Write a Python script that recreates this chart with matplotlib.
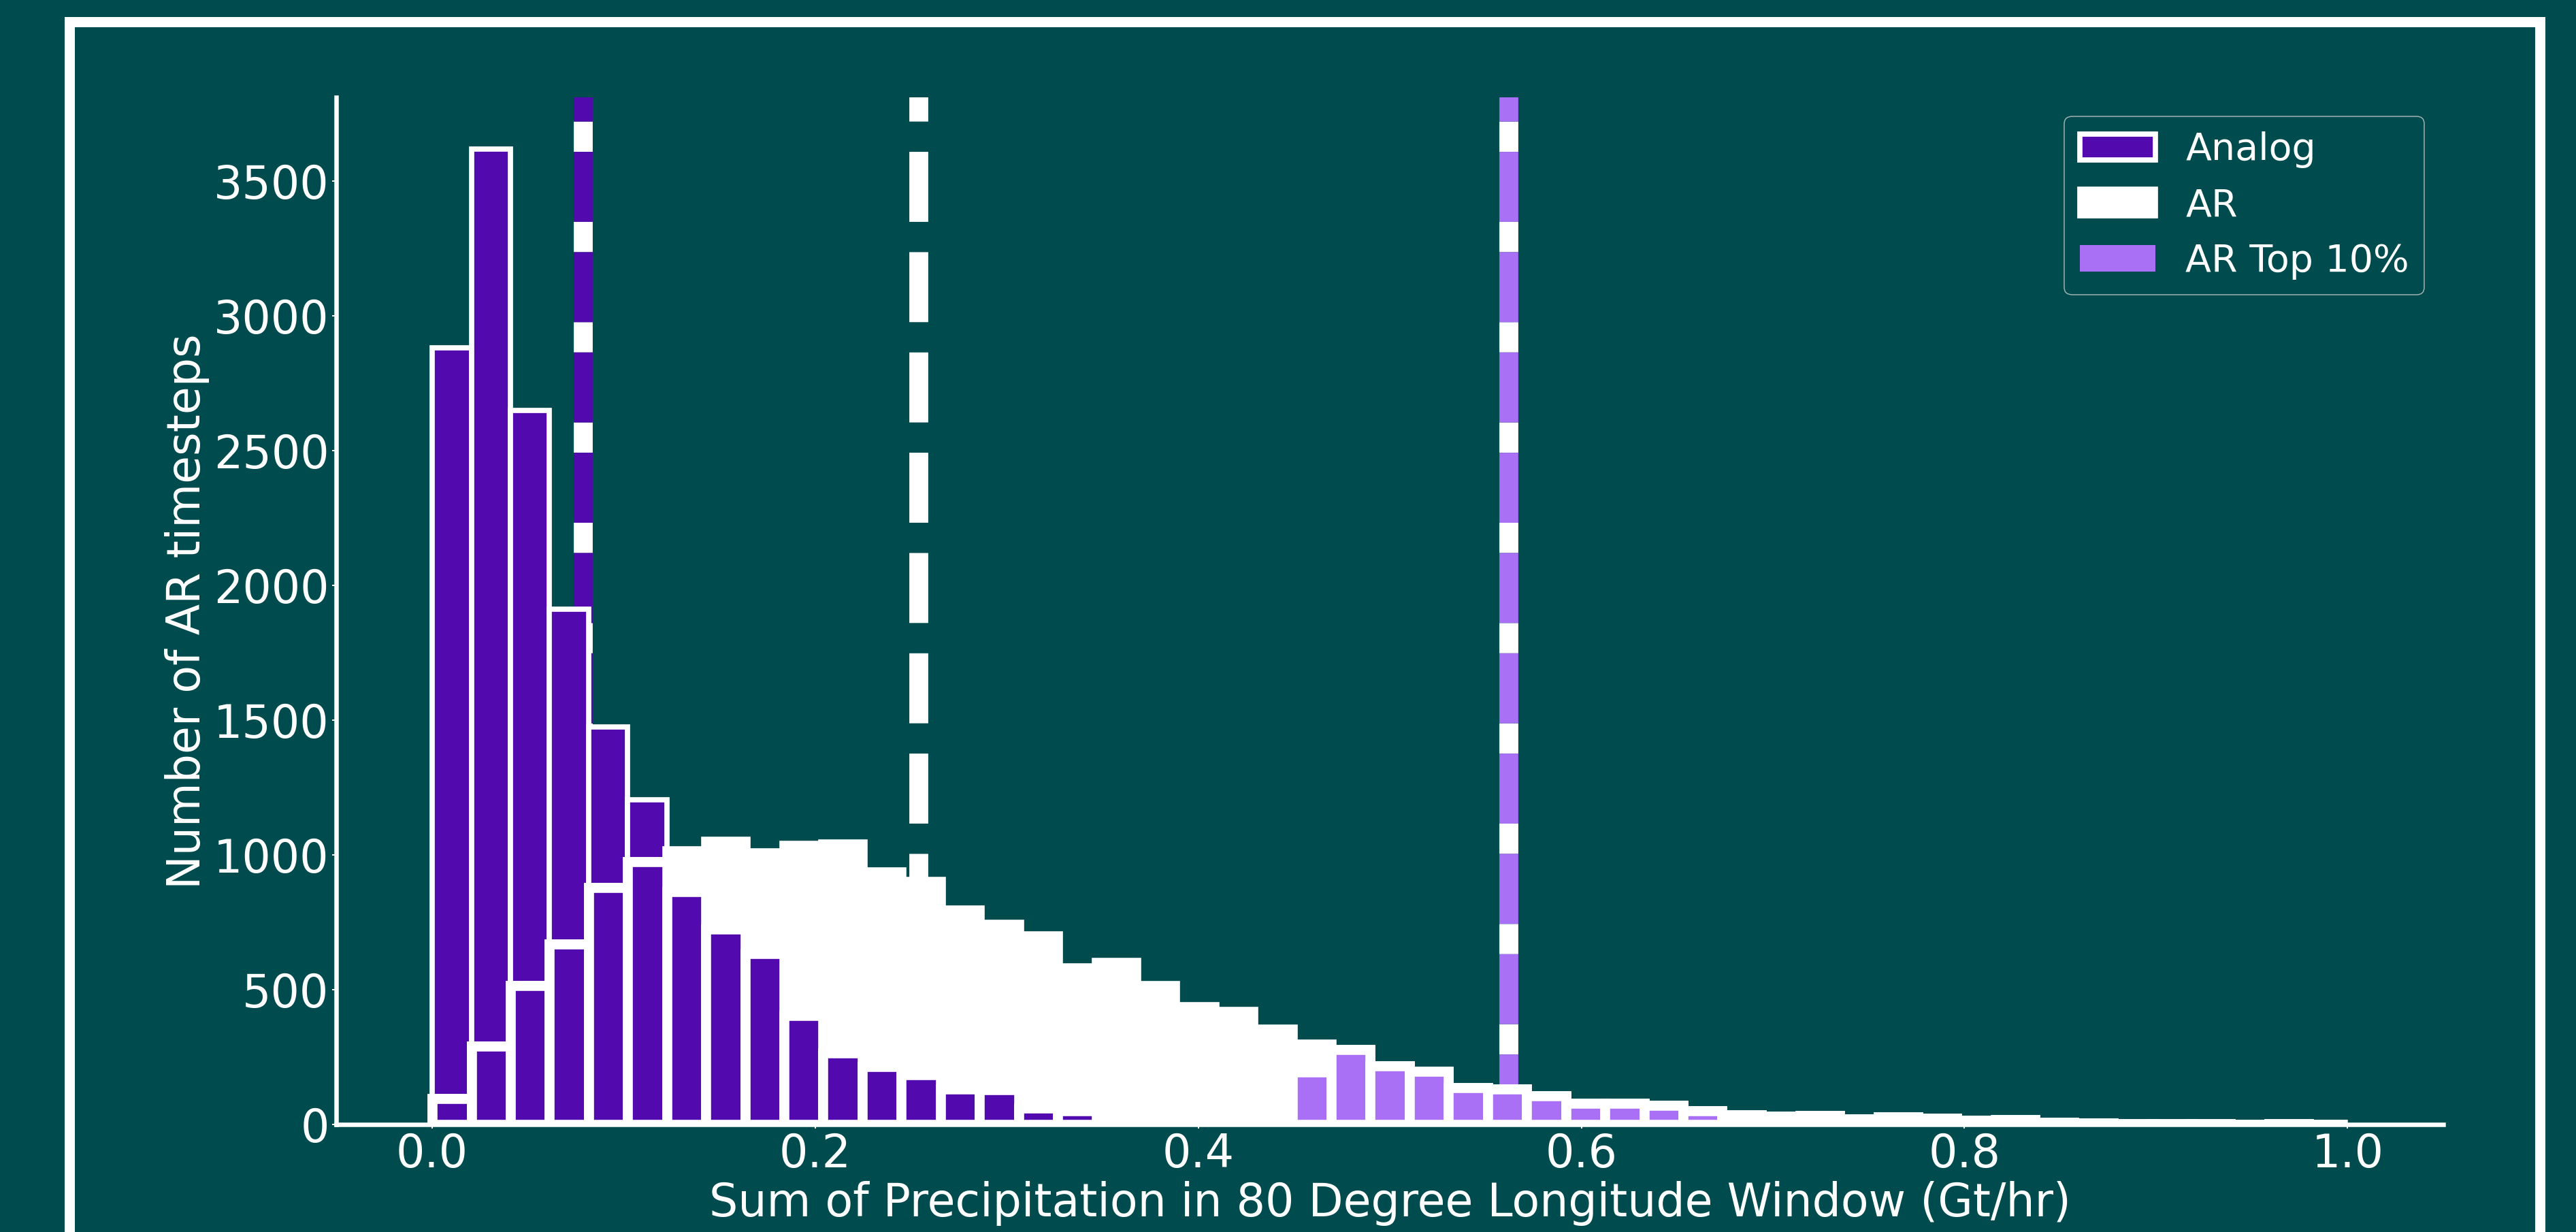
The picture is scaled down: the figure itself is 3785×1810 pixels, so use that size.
import numpy as np
import matplotlib
matplotlib.use("Agg")
import matplotlib.pyplot as plt
from matplotlib.patches import Patch, Rectangle

# ---- data -------------------------------------------------------------
# 49 equal bins spanning 0 .. 1 Gt/hr
bin_edges = np.linspace(0.0, 1.0, 50)

analog_counts = [2881, 3620, 2649, 1913, 1476, 1205, 864, 724, 635, 405,
                 265, 215, 185, 131, 130, 61, 51, 0, 0, 0,
                 0, 0, 0, 0, 0, 0, 0, 0, 0, 0,
                 0, 0, 0, 0, 0, 0, 0, 0, 0, 0,
                 0, 0, 0, 0, 0, 0, 0, 0, 0]

ar_counts = [96, 290, 515, 670, 880, 975, 1016, 1050, 1009, 1036,
             1040, 938, 901, 795, 744, 701, 581, 601, 516, 437,
             419, 353, 298, 279, 217, 198, 136, 132, 107, 80,
             80, 70, 52, 35, 30, 33, 20, 28, 24, 15,
             17, 8, 5, 3, 4, 2, 1, 4, 1]

ar_top10_counts = [0, 0, 0, 0, 0, 0, 0, 0, 0, 0,
                   0, 0, 0, 0, 0, 0, 0, 0, 0, 0,
                   0, 0, 195, 279, 217, 198, 136, 132, 107, 80,
                   80, 70, 52, 35, 30, 33, 20, 28, 24, 15,
                   17, 8, 5, 3, 4, 2, 1, 4, 1]

analog_mean = 0.079
ar_mean = 0.254
ar_top10_mean = 0.562

series_labels = ["Analog", "AR", "AR Top 10%"]
x_ticks = [0.0, 0.2, 0.4, 0.6, 0.8, 1.0]
y_ticks = [0, 500, 1000, 1500, 2000, 2500, 3000, 3500]

# ---- style ------------------------------------------------------------
BG = "#004B4D"
DARK = "#520AAE"
LIGHT = "#A970F5"
WHITE = "white"
PX = 72 / 100  # points per pixel at dpi 100

fig = plt.figure(figsize=(37.85, 18.10), dpi=100, facecolor=BG)
ax = fig.add_axes([0.13062, 0.08718, 0.81786, 0.83359])
ax.set_facecolor(BG)

centers = 0.5 * (bin_edges[:-1] + bin_edges[1:])
analog = np.array(analog_counts, dtype=float)
ar = np.array(ar_counts, dtype=float)
top10 = np.array(ar_top10_counts, dtype=float)
overlap = np.minimum(analog, ar)

thin = 7.7 * PX
thick = 14.6 * PX


def draw_hist(weights, face, lw):
    _, _, patches = ax.hist(centers, bins=bin_edges, weights=weights,
                            color=face, edgecolor=WHITE, linewidth=lw)
    for p in patches:
        if p.get_height() == 0:
            p.set_visible(False)


draw_hist(analog, DARK, thin)
draw_hist(ar, WHITE, thick)
draw_hist(overlap, DARK, thick)
draw_hist(top10, LIGHT, thick)

# mean markers
line_w = 27.8 * PX
ax.axvline(analog_mean, color=DARK, lw=line_w, ls="--", gapcolor=WHITE, zorder=0.5)
ax.axvline(ar_mean, color=WHITE, lw=line_w, ls="--", zorder=0.5)
ax.axvline(ar_top10_mean, color=LIGHT, lw=line_w, ls="--", gapcolor=WHITE, zorder=0.5)

ax.set_xlim(-0.05, 1.05)
ax.set_ylim(0, 3810)
ax.set_xticks(x_ticks)
ax.set_yticks(y_ticks)

for side in ("top", "right"):
    ax.spines[side].set_visible(False)
for side in ("left", "bottom"):
    ax.spines[side].set_color(WHITE)
    ax.spines[side].set_linewidth(6.5 * PX)

ax.tick_params(colors=WHITE, labelsize=48, length=6 * PX, width=2 * PX, pad=3.5)
ax.set_xlabel("Sum of Precipitation in 80 Degree Longitude Window (Gt/hr)",
              color=WHITE, fontsize=48)
ax.set_ylabel("Number of AR timesteps", color=WHITE, fontsize=48)

handles = [
    Patch(facecolor=DARK, edgecolor=WHITE, linewidth=thin, label=series_labels[0]),
    Patch(facecolor=WHITE, edgecolor=WHITE, linewidth=thin, label=series_labels[1]),
    Patch(facecolor=LIGHT, edgecolor="none", linewidth=0, label=series_labels[2]),
]
leg = ax.legend(handles=handles, loc="upper right", fontsize=40,
                facecolor=BG, edgecolor="0.8", labelcolor=WHITE, framealpha=0.8)
leg.get_frame().set_linewidth(1.5 * PX)

# white border around the whole figure
border = Rectangle((102 / 3785, -0.05), (3732 - 102) / 3785, 1 - 32 / 1810 + 0.05,
                   transform=fig.transFigure, fill=False, edgecolor=WHITE,
                   linewidth=15 * PX, clip_on=False)
fig.add_artist(border)

fig.savefig("out.png", dpi=100, facecolor=BG)
